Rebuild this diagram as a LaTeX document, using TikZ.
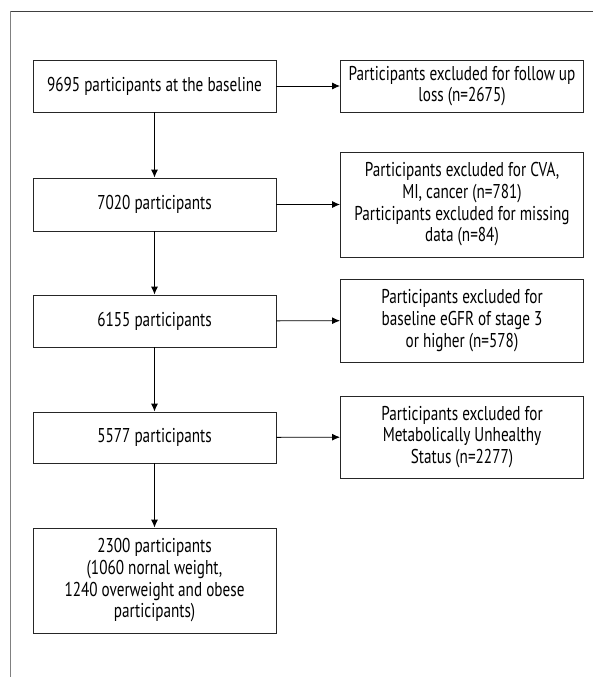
\documentclass[tikz,border=0pt]{standalone}
\usepackage{fontspec}
\setmainfont[FakeStretch=0.76]{PT Sans}
\usetikzlibrary{arrows.meta}
\begin{document}
\begin{tikzpicture}[x=1pt,y=-1pt,
  box/.style={draw=black!85,line width=0.9pt,minimum width=243pt,align=center,
    inner sep=0pt,font=\fontsize{20}{21.7}\selectfont},
  arr/.style={-{Latex[length=8pt,width=7pt]},line width=0.9pt}]
\useasboundingbox (0,0) rectangle (593,677);

% frame
\draw[black!75,line width=0.9pt] (593,11) -- (10,11);
\draw[black!50,line width=1pt] (10,11) -- (10,677);

% main column
\node[box,minimum height=52pt] (base) at (154.5,86) {9695 participants at the baseline};
\node[box,minimum height=53pt] (p7020) at (154.5,204.5) {7020 participants};
\node[box,minimum height=52pt] (p6155) at (154.5,321) {6155 participants};
\node[box,minimum height=51pt] (p5577) at (154.5,437.5) {5577 participants};
\node[box,minimum height=105pt] (p2300) at (154.5,580.5) {2300 participants\\(1060 nornal weight,\\1240 overweight and obese\\participants)};

% exclusions
\node[box,minimum height=52pt] (exLoss) at (462,86) {Participants excluded for follow up\\loss (n=2675)};
\node[box,minimum height=105pt] (exCVA) at (462,204.5) {Participants excluded for CVA,\\MI, cancer (n=781)\\Participants excluded for missing\\data (n=84)};
\node[box,minimum height=83pt] (exGFR) at (462,320.5) {Participants excluded for\\baseline eGFR of stage 3\\or higher (n=578)};
\node[box,minimum height=82pt] (exMUH) at (462,437) {Participants excluded for\\Metabolically Unhealthy\\Status (n=2277)};

\draw[arr] (base) -- (p7020);
\draw[arr] (p7020) -- (p6155);
\draw[arr] (p6155) -- (p5577);
\draw[arr] (p5577) -- (p2300);

\draw[arr] (base) -- (exLoss);
\draw[arr] (p7020) -- (exCVA);
\draw[arr] (p6155) -- (exGFR);
\draw[arr] (p5577) -- (exMUH);
\end{tikzpicture}
\end{document}
